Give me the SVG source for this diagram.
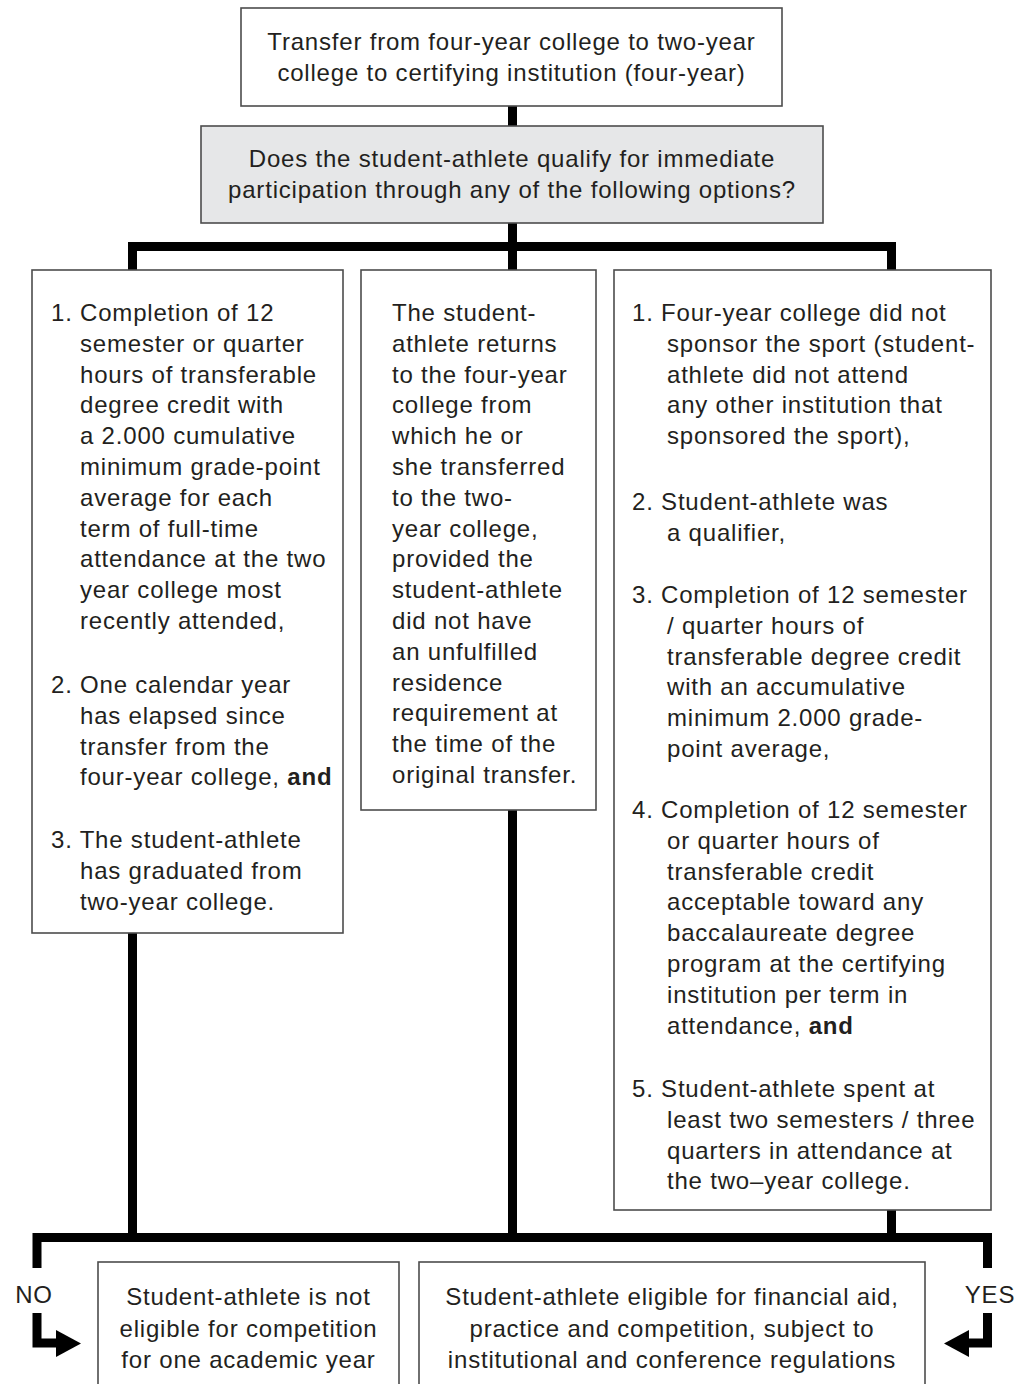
<svg xmlns="http://www.w3.org/2000/svg" width="1030" height="1384" viewBox="0 0 1030 1384">
<style>
.box{fill:#ffffff;stroke:#4d4d4d;stroke-width:1.6}
.gray{fill:#e6e7e8;stroke:#4d4d4d;stroke-width:1.6}
.t{font-family:"Liberation Sans",Arial,sans-serif;font-size:24px;letter-spacing:0.8px;fill:#231f20}
.c{text-anchor:middle}
.b{font-weight:bold}
.conn{fill:none;stroke:#000000;stroke-width:9;stroke-linejoin:miter;stroke-linecap:butt}
.head{fill:#000000}
</style>
<g id="connectors">
<path class="conn" d="M512.5 106 V126"/>
<path class="conn" d="M512.5 223 V270"/>
<path class="conn" d="M132.5 270 V246.5 H891.5 V270"/>
<path class="conn" d="M132.5 933 V1237.5"/>
<path class="conn" d="M512.5 810 V1237.5"/>
<path class="conn" d="M891.5 1210 V1237.5"/>
<path class="conn" d="M37 1268 V1237.5 H987.5 V1268"/>
<path class="conn" d="M37 1313 V1343 H58"/>
<polygon class="head" points="56,1330 81,1343.5 56,1357"/>
<path class="conn" d="M987.5 1313 V1343 H967"/>
<polygon class="head" points="969,1330 944,1343.5 969,1357"/>
<text class="t c" x="34" y="1303">NO</text>
<text class="t c" x="990" y="1303">YES</text>
</g>
<g id="start">
<rect class="box" x="241" y="8" width="541" height="98"/>
<text class="t c" x="511.5" y="50">Transfer from four-year college to two-year</text>
<text class="t c" x="511.5" y="80.5">college to certifying institution (four-year)</text>
</g>
<g id="question">
<rect class="gray" x="201" y="126" width="622" height="97"/>
<text class="t c" x="512" y="167">Does the student-athlete qualify for immediate</text>
<text class="t c" x="512" y="198">participation through any of the following options?</text>
</g>
<g id="option-left">
<rect class="box" x="32" y="270" width="311" height="663"/>
<text class="t" x="51" y="321">1. Completion of 12</text>
<text class="t" x="80" y="351.8">semester or quarter</text>
<text class="t" x="80" y="382.6">hours of transferable</text>
<text class="t" x="80" y="413.4">degree credit with</text>
<text class="t" x="80" y="444.2">a 2.000 cumulative</text>
<text class="t" x="80" y="475">minimum grade-point</text>
<text class="t" x="80" y="505.8">average for each</text>
<text class="t" x="80" y="536.6">term of full-time</text>
<text class="t" x="80" y="567.4">attendance at the two</text>
<text class="t" x="80" y="598.2">year college most</text>
<text class="t" x="80" y="629">recently attended,</text>
<text class="t" x="51" y="693">2. One calendar year</text>
<text class="t" x="80" y="723.8">has elapsed since</text>
<text class="t" x="80" y="754.6">transfer from the</text>
<text class="t" x="80" y="785.4">four-year college, <tspan class="b">and</tspan></text>
<text class="t" x="51" y="848">3. The student-athlete</text>
<text class="t" x="80" y="878.8">has graduated from</text>
<text class="t" x="80" y="909.6">two-year college.</text>
</g>
<g id="option-middle">
<rect class="box" x="361" y="270" width="235" height="540"/>
<text class="t" x="392" y="321">The student-</text>
<text class="t" x="392" y="351.8">athlete returns</text>
<text class="t" x="392" y="382.6">to the four-year</text>
<text class="t" x="392" y="413.4">college from</text>
<text class="t" x="392" y="444.2">which he or</text>
<text class="t" x="392" y="475">she transferred</text>
<text class="t" x="392" y="505.8">to the two-</text>
<text class="t" x="392" y="536.6">year college,</text>
<text class="t" x="392" y="567.4">provided the</text>
<text class="t" x="392" y="598.2">student-athlete</text>
<text class="t" x="392" y="629">did not have</text>
<text class="t" x="392" y="659.8">an unfulfilled</text>
<text class="t" x="392" y="690.6">residence</text>
<text class="t" x="392" y="721.4">requirement at</text>
<text class="t" x="392" y="752.2">the time of the</text>
<text class="t" x="392" y="783">original transfer.</text>
</g>
<g id="option-right">
<rect class="box" x="614" y="270" width="377" height="940"/>
<text class="t" x="632" y="321">1. Four-year college did not</text>
<text class="t" x="667" y="351.8">sponsor the sport (student-</text>
<text class="t" x="667" y="382.6">athlete did not attend</text>
<text class="t" x="667" y="413.4">any other institution that</text>
<text class="t" x="667" y="444.2">sponsored the sport),</text>
<text class="t" x="632" y="510">2. Student-athlete was</text>
<text class="t" x="667" y="540.8">a qualifier,</text>
<text class="t" x="632" y="603">3. Completion of 12 semester</text>
<text class="t" x="667" y="633.8">/ quarter hours of</text>
<text class="t" x="667" y="664.6">transferable degree credit</text>
<text class="t" x="667" y="695.4">with an accumulative</text>
<text class="t" x="667" y="726.2">minimum 2.000 grade-</text>
<text class="t" x="667" y="757">point average,</text>
<text class="t" x="632" y="818">4. Completion of 12 semester</text>
<text class="t" x="667" y="848.8">or quarter hours of</text>
<text class="t" x="667" y="879.6">transferable credit</text>
<text class="t" x="667" y="910.4">acceptable toward any</text>
<text class="t" x="667" y="941.2">baccalaureate degree</text>
<text class="t" x="667" y="972">program at the certifying</text>
<text class="t" x="667" y="1002.8">institution per term in</text>
<text class="t" x="667" y="1033.6">attendance, <tspan class="b">and</tspan></text>
<text class="t" x="632" y="1097">5. Student-athlete spent at</text>
<text class="t" x="667" y="1127.8">least two semesters / three</text>
<text class="t" x="667" y="1158.6">quarters in attendance at</text>
<text class="t" x="667" y="1189.4">the two–year college.</text>
</g>
<g id="result-no">
<rect class="box" x="98" y="1262" width="301" height="130"/>
<text class="t c" x="248.5" y="1305">Student-athlete is not</text>
<text class="t c" x="248.5" y="1337">eligible for competition</text>
<text class="t c" x="248.5" y="1368">for one academic year</text>
</g>
<g id="result-yes">
<rect class="box" x="419" y="1262" width="506" height="130"/>
<text class="t c" x="672" y="1305">Student-athlete eligible for financial aid,</text>
<text class="t c" x="672" y="1337">practice and competition, subject to</text>
<text class="t c" x="672" y="1368">institutional and conference regulations</text>
</g>
</svg>
